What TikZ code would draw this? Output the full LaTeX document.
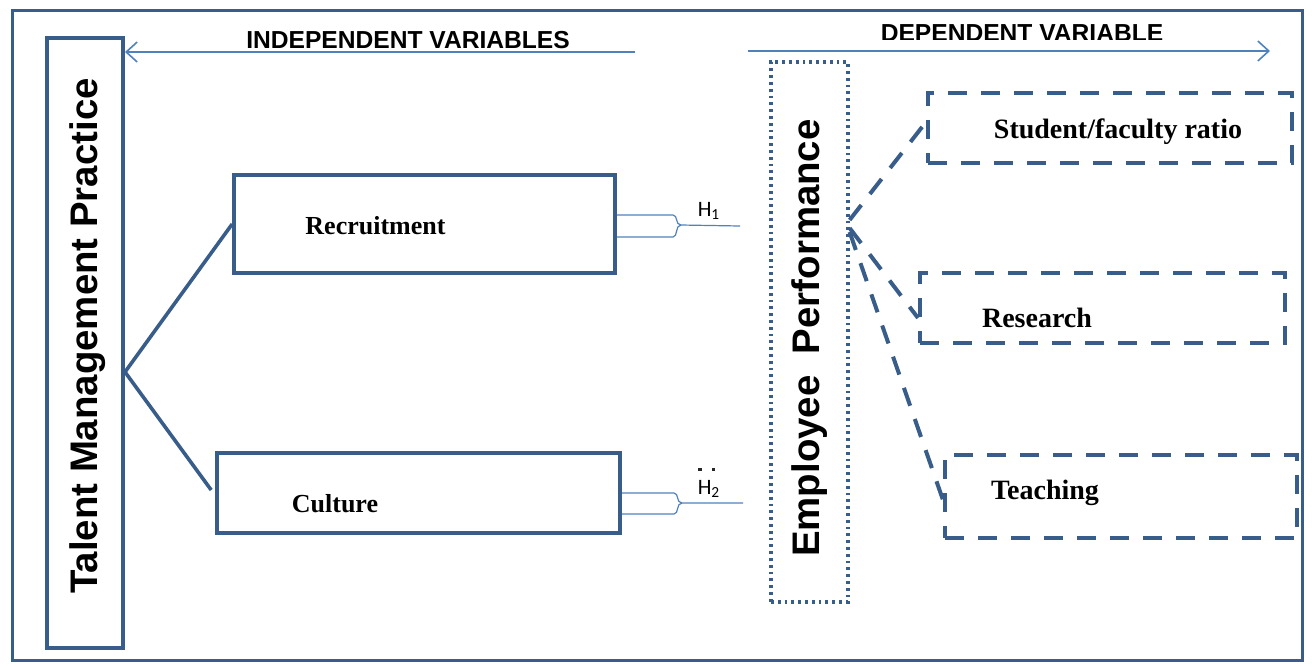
\documentclass[tikz,border=0pt]{standalone}
\usepackage{fontspec}
\setmainfont{Liberation Serif}
\newfontfamily\headsans{Liberation Sans}
\newfontfamily\calfont{Carlito}
\usetikzlibrary{arrows.meta,calc}
\definecolor{boxblue}{HTML}{385D8A}
\definecolor{lineblue}{HTML}{4F81BD}
\tikzset{
  outerframe/.style={draw=boxblue, line width=1.5pt, inner sep=0pt},
  solidbox/.style={draw=boxblue, line width=1.8pt, inner sep=0pt},
  dashbox/.style={draw=boxblue, line width=2pt, dash pattern=on 9.5pt off 7pt, inner sep=0pt},
  dotbox/.style={draw=boxblue, line width=1.6pt, dash pattern=on 1.4pt off 2pt, inner sep=0pt},
  branch/.style={draw=boxblue, line width=1.8pt},
  dashlink/.style={draw=boxblue, line width=2pt, dash pattern=on 9.5pt off 7pt},
  thinline/.style={draw=lineblue, line width=0.6pt},
  axisarrow/.style={draw=lineblue, line width=0.8pt, -{Straight Barb[length=5.5pt,width=10pt]}},
  vtitle/.style={rotate=90, font=\headsans\bfseries\fontsize{19.2pt}{23pt}\selectfont, inner sep=0pt},
  boxlabel/.style={font=\bfseries\fontsize{13pt}{15pt}\selectfont, inner sep=0pt},
  dvlabel/.style={font=\bfseries\fontsize{14pt}{16pt}\selectfont, inner sep=0pt},
  heading/.style={font=\headsans\bfseries\fontsize{12.3pt}{14pt}\selectfont, inner sep=0pt},
  hlabel/.style={font=\calfont\fontsize{11pt}{13pt}\selectfont, inner sep=0pt},
  hdot/.style={fill=black!85},
}
\begin{document}
\begin{tikzpicture}[x=0.5pt,y=-0.5pt]
\useasboundingbox (0,0) rectangle (1312,666);
% outer frame
\node[outerframe, minimum width=645pt, minimum height=325pt] (frame) at (657,335.5) {};

% independent side
\node[solidbox, line width=2pt, minimum width=38pt, minimum height=305pt] (tmp) at (85,343) {};
\node[vtitle] (tmptxt) at (88,336) {Talent Management Practice};
\node[solidbox, minimum width=190.5pt, minimum height=49pt] (rec) at (424.5,224) {};
\node[boxlabel] (rectxt) at (375.5,226) {Recruitment};
\node[solidbox, minimum width=201.5pt, minimum height=40pt] (cul) at (418.5,493) {};
\node[boxlabel] (cultxt) at (335,504) {Culture};

\draw[branch] (rec.west) -- (tmp.east |- 0,372) -- ([xshift=-2pt,yshift=1.5pt]cul.west);

% hypotheses
\coordinate (h1end) at (740,226);
\coordinate (h2end) at (743,503);
\draw[thinline] (rec.east |- 0,215) -- (673,215) .. controls (678,215) and (675,225) .. (681,225) -- (h1end);
\draw[thinline] (rec.east |- 0,237) -- (673,237) .. controls (678,237) and (675,225) .. (681,225);
\draw[thinline] (cul.east |- 0,493) -- (674,493) .. controls (679,493) and (676,503) .. (682,503) -- (h2end);
\draw[thinline] (cul.east |- 0,514) -- (674,514) .. controls (679,514) and (676,503) .. (682,503);
\node[hlabel] (h1) at (709,211) {H\textsubscript{1}};
\node[hlabel, anchor=base] (h2) at (709,494) {H\textsubscript{2}};
% two specks above the second hypothesis mark
\fill[hdot] (698,467.5) rectangle (701.5,471);
\fill[hdot] (711.5,467.5) rectangle (715,471);

% dependent side
\node[dotbox, minimum width=38.5pt, minimum height=270pt] (ep) at (809.5,332) {};
\node[vtitle] (eptxt) at (810,338) {Employee\ \ Performance};
\node[dashbox, minimum width=182pt, minimum height=35pt] (stu) at (1110,128) {};
\node[dvlabel] (stutxt) at (1118,132) {Student/faculty ratio};
\node[dashbox, minimum width=182.5pt, minimum height=35pt] (res) at (1102.5,308) {};
\node[dvlabel] (restxt) at (1037,318) {Research};
\node[dashbox, minimum width=176pt, minimum height=41.5pt] (tea) at (1121,496.5) {};
\node[dvlabel] (teatxt) at (1045,493) {Teaching};

\draw[dashlink] (ep.east |- 0,220) -- (stu.west |- 0,122);
\draw[dashlink] (ep.east |- 0,228) -- (res.west |- 0,318);
\draw[dashlink] (ep.east |- 0,232) -- (tea.west |- 0,500);

% axis arrows and headings
\coordinate (ivtail) at (635,52);
\draw[axisarrow] (ivtail) -- (tmp.east |- ivtail);
\node[heading] (ivtxt) at (408,40.5) {INDEPENDENT VARIABLES};
\coordinate (dvtail) at (748,51);
\coordinate (dvhead) at (1270,51);
\draw[axisarrow] (dvtail) -- (dvhead);
\begin{scope}
  \clip (850,0) rectangle (1200,39);
  \node[heading] (dvtxt) at (1022,33.5) {DEPENDENT VARIABLE};
\end{scope}
\end{tikzpicture}
\end{document}
